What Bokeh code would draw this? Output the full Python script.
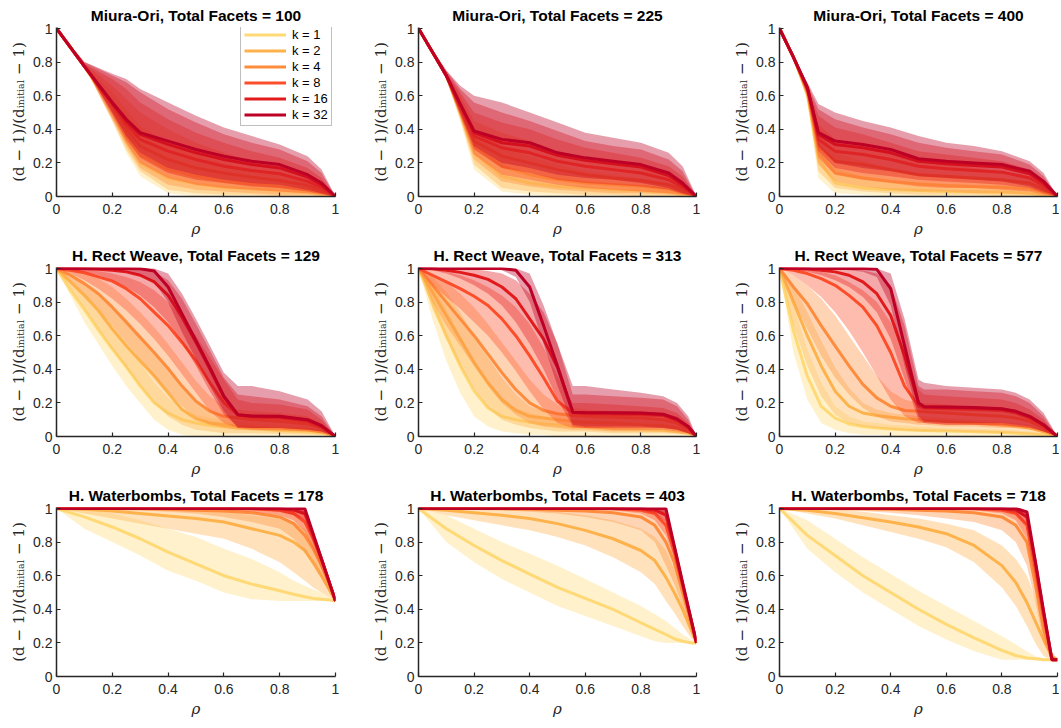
from bokeh.plotting import figure
from bokeh.layouts import gridplot
from bokeh.models import Range1d, FixedTicker, CustomJSTickFormatter, Legend, LegendItem
from bokeh.embed import file_html
from bokeh.resources import INLINE

K_VALUES = [1, 2, 4, 8, 16, 32]
K_COLORS = ["#FED976", "#FEB24C", "#FD8D3C", "#FC4E2A", "#E31A1C", "#BD0026"]
TICKS = [0, 0.2, 0.4, 0.6, 0.8, 1]
TITLES = ["Miura-Ori, Total Facets = 100", "Miura-Ori, Total Facets = 225", "Miura-Ori, Total Facets = 400",
          "H. Rect Weave, Total Facets = 129", "H. Rect Weave, Total Facets = 313", "H. Rect Weave, Total Facets = 577",
          "H. Waterbombs, Total Facets = 178", "H. Waterbombs, Total Facets = 403", "H. Waterbombs, Total Facets = 718"]

# ---------------- Miura-Ori, 100 ----------------
m100_x = [0, 0.1, 0.2, 0.25, 0.3, 0.4, 0.5, 0.6, 0.7, 0.8, 0.9, 0.95, 1]
m100_mean = {
    1: [1, 0.775, 0.52, 0.33, 0.2, 0.11, 0.075, 0.055, 0.045, 0.035, 0.025, 0.015, 0],
    2: [1, 0.775, 0.53, 0.37, 0.25, 0.16, 0.12, 0.09, 0.075, 0.06, 0.04, 0.025, 0],
    4: [1, 0.775, 0.54, 0.4, 0.3, 0.22, 0.17, 0.14, 0.115, 0.095, 0.065, 0.04, 0],
    8: [1, 0.775, 0.55, 0.43, 0.34, 0.27, 0.22, 0.18, 0.155, 0.135, 0.09, 0.055, 0],
    16: [1, 0.775, 0.555, 0.45, 0.37, 0.31, 0.26, 0.22, 0.19, 0.17, 0.115, 0.07, 0],
    32: [1, 0.775, 0.56, 0.46, 0.38, 0.33, 0.28, 0.24, 0.21, 0.19, 0.13, 0.08, 0]}
m100_lo = {
    1: [1, 0.775, 0.45, 0.26, 0.12, 0.02, 0, 0, 0, 0, 0, 0, 0],
    2: [1, 0.775, 0.45, 0.28, 0.15, 0.04, 0.02, 0.01, 0.01, 0, 0, 0, 0],
    4: [1, 0.775, 0.46, 0.3, 0.17, 0.07, 0.04, 0.03, 0.02, 0.01, 0.01, 0, 0],
    8: [1, 0.775, 0.47, 0.32, 0.2, 0.11, 0.07, 0.05, 0.04, 0.03, 0.02, 0.01, 0],
    16: [1, 0.775, 0.49, 0.34, 0.23, 0.14, 0.1, 0.08, 0.06, 0.05, 0.03, 0.015, 0],
    32: [1, 0.775, 0.5, 0.36, 0.26, 0.17, 0.13, 0.1, 0.08, 0.07, 0.04, 0.02, 0]}
m100_hi = {
    1: [1, 0.78, 0.58, 0.46, 0.35, 0.24, 0.18, 0.14, 0.11, 0.09, 0.06, 0.04, 0],
    2: [1, 0.785, 0.62, 0.52, 0.42, 0.32, 0.25, 0.2, 0.16, 0.13, 0.09, 0.06, 0],
    4: [1, 0.79, 0.66, 0.58, 0.5, 0.4, 0.32, 0.26, 0.21, 0.18, 0.13, 0.08, 0],
    8: [1, 0.79, 0.7, 0.64, 0.56, 0.46, 0.38, 0.32, 0.27, 0.23, 0.17, 0.11, 0],
    16: [1, 0.8, 0.72, 0.68, 0.62, 0.52, 0.44, 0.37, 0.32, 0.28, 0.21, 0.14, 0],
    32: [1, 0.8, 0.73, 0.7, 0.64, 0.56, 0.48, 0.41, 0.36, 0.31, 0.24, 0.16, 0]}

# ---------------- Miura-Ori, 225 ----------------
m225_x = [0, 0.1, 0.15, 0.2, 0.3, 0.4, 0.5, 0.6, 0.7, 0.8, 0.9, 0.95, 1]
m225_mean = {
    1: [1, 0.72, 0.5, 0.26, 0.12, 0.08, 0.06, 0.05, 0.04, 0.035, 0.025, 0.015, 0],
    2: [1, 0.72, 0.52, 0.3, 0.18, 0.13, 0.1, 0.08, 0.07, 0.06, 0.045, 0.025, 0],
    4: [1, 0.72, 0.53, 0.33, 0.24, 0.2, 0.16, 0.13, 0.11, 0.095, 0.07, 0.04, 0],
    8: [1, 0.72, 0.54, 0.36, 0.29, 0.26, 0.21, 0.18, 0.16, 0.14, 0.1, 0.055, 0],
    16: [1, 0.72, 0.55, 0.38, 0.32, 0.3, 0.245, 0.215, 0.195, 0.175, 0.125, 0.07, 0],
    32: [1, 0.72, 0.55, 0.39, 0.34, 0.32, 0.26, 0.23, 0.21, 0.19, 0.14, 0.08, 0]}
m225_lo = {
    1: [1, 0.7, 0.45, 0.16, 0.03, 0.01, 0, 0, 0, 0, 0, 0, 0],
    2: [1, 0.7, 0.46, 0.19, 0.05, 0.03, 0.02, 0.01, 0.01, 0, 0, 0, 0],
    4: [1, 0.7, 0.47, 0.22, 0.09, 0.06, 0.04, 0.03, 0.02, 0.02, 0.01, 0, 0],
    8: [1, 0.7, 0.48, 0.25, 0.13, 0.1, 0.07, 0.05, 0.04, 0.03, 0.02, 0.01, 0],
    16: [1, 0.7, 0.49, 0.28, 0.17, 0.14, 0.1, 0.08, 0.07, 0.06, 0.04, 0.015, 0],
    32: [1, 0.7, 0.5, 0.3, 0.2, 0.17, 0.13, 0.11, 0.1, 0.08, 0.05, 0.02, 0]}
m225_hi = {
    1: [1, 0.73, 0.56, 0.36, 0.23, 0.17, 0.13, 0.1, 0.08, 0.07, 0.05, 0.03, 0],
    2: [1, 0.74, 0.58, 0.4, 0.3, 0.24, 0.19, 0.15, 0.13, 0.11, 0.08, 0.05, 0],
    4: [1, 0.74, 0.6, 0.45, 0.38, 0.33, 0.27, 0.22, 0.19, 0.17, 0.13, 0.08, 0],
    8: [1, 0.74, 0.62, 0.5, 0.44, 0.4, 0.34, 0.29, 0.26, 0.23, 0.18, 0.12, 0],
    16: [1, 0.75, 0.64, 0.56, 0.5, 0.45, 0.39, 0.33, 0.3, 0.28, 0.22, 0.15, 0],
    32: [1, 0.75, 0.66, 0.6, 0.56, 0.5, 0.44, 0.38, 0.35, 0.32, 0.26, 0.18, 0]}

# ---------------- Miura-Ori, 400 ----------------
m400_x = [0, 0.05, 0.1, 0.14, 0.2, 0.3, 0.4, 0.5, 0.6, 0.7, 0.8, 0.9, 0.95, 1]
m400_mean = {
    1: [1, 0.83, 0.61, 0.22, 0.08, 0.05, 0.04, 0.035, 0.03, 0.028, 0.025, 0.02, 0.012, 0],
    2: [1, 0.83, 0.62, 0.26, 0.14, 0.11, 0.09, 0.075, 0.065, 0.06, 0.055, 0.045, 0.03, 0],
    4: [1, 0.83, 0.63, 0.3, 0.21, 0.19, 0.16, 0.13, 0.12, 0.11, 0.1, 0.08, 0.045, 0],
    8: [1, 0.83, 0.64, 0.34, 0.27, 0.25, 0.22, 0.18, 0.165, 0.155, 0.145, 0.11, 0.065, 0],
    16: [1, 0.83, 0.65, 0.37, 0.31, 0.29, 0.26, 0.21, 0.195, 0.185, 0.175, 0.135, 0.08, 0],
    32: [1, 0.83, 0.65, 0.38, 0.33, 0.31, 0.28, 0.225, 0.21, 0.2, 0.19, 0.15, 0.09, 0]}
m400_lo = {
    1: [1, 0.82, 0.57, 0.11, 0.02, 0.01, 0, 0, 0, 0, 0, 0, 0, 0],
    2: [1, 0.82, 0.58, 0.15, 0.05, 0.03, 0.02, 0.01, 0.01, 0.01, 0, 0, 0, 0],
    4: [1, 0.82, 0.59, 0.19, 0.09, 0.06, 0.04, 0.03, 0.03, 0.02, 0.02, 0.01, 0, 0],
    8: [1, 0.82, 0.6, 0.23, 0.13, 0.1, 0.08, 0.06, 0.05, 0.05, 0.04, 0.03, 0.01, 0],
    16: [1, 0.82, 0.61, 0.27, 0.17, 0.14, 0.12, 0.1, 0.09, 0.08, 0.07, 0.05, 0.02, 0],
    32: [1, 0.82, 0.62, 0.3, 0.2, 0.17, 0.15, 0.12, 0.11, 0.1, 0.09, 0.06, 0.03, 0]}
m400_hi = {
    1: [1, 0.84, 0.63, 0.33, 0.17, 0.12, 0.1, 0.08, 0.07, 0.06, 0.05, 0.04, 0.03, 0],
    2: [1, 0.84, 0.64, 0.38, 0.26, 0.21, 0.17, 0.14, 0.12, 0.11, 0.1, 0.08, 0.05, 0],
    4: [1, 0.84, 0.65, 0.43, 0.34, 0.3, 0.26, 0.21, 0.19, 0.17, 0.15, 0.12, 0.07, 0],
    8: [1, 0.84, 0.66, 0.48, 0.41, 0.37, 0.32, 0.27, 0.25, 0.23, 0.21, 0.16, 0.1, 0],
    16: [1, 0.84, 0.67, 0.52, 0.46, 0.41, 0.37, 0.32, 0.29, 0.27, 0.25, 0.19, 0.12, 0],
    32: [1, 0.84, 0.68, 0.55, 0.5, 0.45, 0.41, 0.36, 0.32, 0.3, 0.27, 0.21, 0.14, 0]}

# ---------------- H. Rect Weave, 129 ----------------
r129_x = [0, 0.05, 0.1, 0.15, 0.2, 0.25, 0.3, 0.35, 0.4, 0.45, 0.5, 0.55, 0.6, 0.65, 0.7, 0.8, 0.9, 0.95, 1]
r129_mean = {
    1: [1, 0.87, 0.755, 0.635, 0.52, 0.415, 0.3, 0.2, 0.14, 0.1, 0.08, 0.065, 0.058, 0.05, 0.045, 0.035, 0.028, 0.02, 0],
    2: [1, 0.92, 0.84, 0.75, 0.64, 0.54, 0.45, 0.36, 0.26, 0.16, 0.105, 0.08, 0.07, 0.06, 0.055, 0.045, 0.04, 0.03, 0],
    4: [1, 0.96, 0.91, 0.85, 0.77, 0.68, 0.59, 0.5, 0.405, 0.3, 0.21, 0.15, 0.12, 0.11, 0.1, 0.09, 0.075, 0.05, 0],
    8: [1, 0.99, 0.975, 0.95, 0.925, 0.88, 0.82, 0.74, 0.66, 0.56, 0.45, 0.32, 0.2, 0.13, 0.115, 0.11, 0.09, 0.055, 0],
    16: [1, 1, 0.998, 0.995, 0.99, 0.98, 0.96, 0.92, 0.84, 0.71, 0.56, 0.4, 0.235, 0.128, 0.12, 0.117, 0.098, 0.062, 0],
    32: [1, 1, 1, 1, 1, 1, 0.998, 0.985, 0.89, 0.73, 0.57, 0.41, 0.24, 0.13, 0.122, 0.12, 0.1, 0.065, 0]}
r129_lo = {
    1: [1, 0.84, 0.68, 0.55, 0.42, 0.3, 0.2, 0.1, 0.04, 0.01, 0, 0, 0, 0, 0, 0, 0, 0, 0],
    2: [1, 0.88, 0.76, 0.64, 0.52, 0.41, 0.3, 0.2, 0.12, 0.07, 0.04, 0.03, 0.02, 0.02, 0.02, 0.015, 0.01, 0.01, 0],
    4: [1, 0.93, 0.85, 0.76, 0.66, 0.56, 0.46, 0.36, 0.27, 0.18, 0.11, 0.07, 0.05, 0.04, 0.04, 0.03, 0.03, 0.02, 0],
    8: [1, 0.97, 0.93, 0.88, 0.82, 0.75, 0.67, 0.58, 0.48, 0.37, 0.26, 0.15, 0.08, 0.05, 0.04, 0.04, 0.03, 0.02, 0],
    16: [1, 0.99, 0.98, 0.96, 0.93, 0.89, 0.84, 0.77, 0.68, 0.56, 0.42, 0.27, 0.13, 0.06, 0.05, 0.05, 0.04, 0.03, 0],
    32: [1, 1, 1, 0.995, 0.99, 0.98, 0.96, 0.92, 0.8, 0.62, 0.46, 0.3, 0.15, 0.05, 0.05, 0.05, 0.04, 0.03, 0]}
r129_hi = {
    1: [1, 0.93, 0.85, 0.76, 0.66, 0.56, 0.44, 0.32, 0.23, 0.17, 0.13, 0.11, 0.1, 0.09, 0.08, 0.07, 0.06, 0.04, 0],
    2: [1, 0.97, 0.92, 0.86, 0.78, 0.7, 0.6, 0.5, 0.4, 0.3, 0.2, 0.14, 0.12, 0.1, 0.09, 0.08, 0.07, 0.05, 0],
    4: [1, 0.99, 0.97, 0.94, 0.89, 0.82, 0.74, 0.65, 0.55, 0.44, 0.33, 0.24, 0.18, 0.16, 0.15, 0.14, 0.12, 0.08, 0],
    8: [1, 1, 0.995, 0.985, 0.97, 0.95, 0.92, 0.87, 0.8, 0.71, 0.6, 0.47, 0.34, 0.22, 0.2, 0.19, 0.16, 0.1, 0],
    16: [1, 1, 1, 1, 1, 1, 0.995, 0.98, 0.93, 0.82, 0.67, 0.51, 0.35, 0.25, 0.24, 0.22, 0.18, 0.12, 0],
    32: [1, 1, 1, 1, 1, 1, 1, 1, 0.97, 0.85, 0.7, 0.54, 0.38, 0.3, 0.3, 0.27, 0.22, 0.15, 0]}

# ---------------- H. Rect Weave, 313 ----------------
r313_x = [0, 0.05, 0.1, 0.15, 0.2, 0.25, 0.3, 0.35, 0.4, 0.45, 0.5, 0.555, 0.6, 0.7, 0.8, 0.88, 0.93, 0.97, 1]
r313_mean = {
    1: [1, 0.8, 0.6, 0.42, 0.27, 0.17, 0.12, 0.1, 0.085, 0.075, 0.068, 0.06, 0.055, 0.045, 0.04, 0.035, 0.03, 0.02, 0],
    2: [1, 0.86, 0.72, 0.58, 0.44, 0.32, 0.22, 0.155, 0.12, 0.11, 0.1, 0.09, 0.085, 0.08, 0.07, 0.065, 0.05, 0.03, 0],
    4: [1, 0.9, 0.8, 0.7, 0.6, 0.49, 0.38, 0.28, 0.2, 0.155, 0.135, 0.125, 0.12, 0.115, 0.11, 0.1, 0.08, 0.045, 0],
    8: [1, 0.96, 0.92, 0.88, 0.835, 0.78, 0.7, 0.6, 0.48, 0.35, 0.21, 0.14, 0.135, 0.133, 0.13, 0.125, 0.095, 0.055, 0],
    16: [1, 0.998, 0.99, 0.977, 0.96, 0.935, 0.89, 0.82, 0.7, 0.58, 0.41, 0.145, 0.14, 0.14, 0.137, 0.13, 0.1, 0.058, 0],
    32: [1, 1, 1, 1, 1, 1, 1, 0.99, 0.89, 0.66, 0.42, 0.145, 0.143, 0.142, 0.14, 0.133, 0.104, 0.06, 0]}
r313_lo = {
    1: [1, 0.7, 0.45, 0.26, 0.12, 0.06, 0.03, 0.02, 0.01, 0.01, 0, 0, 0, 0, 0, 0, 0, 0, 0],
    2: [1, 0.76, 0.58, 0.42, 0.28, 0.17, 0.1, 0.07, 0.05, 0.04, 0.03, 0.03, 0.03, 0.02, 0.02, 0.02, 0.015, 0.01, 0],
    4: [1, 0.8, 0.66, 0.54, 0.42, 0.3, 0.2, 0.13, 0.08, 0.06, 0.05, 0.04, 0.04, 0.03, 0.03, 0.03, 0.02, 0.01, 0],
    8: [1, 0.9, 0.83, 0.76, 0.68, 0.6, 0.5, 0.39, 0.27, 0.16, 0.08, 0.05, 0.05, 0.04, 0.04, 0.04, 0.03, 0.02, 0],
    16: [1, 0.99, 0.97, 0.94, 0.9, 0.85, 0.78, 0.68, 0.55, 0.4, 0.22, 0.06, 0.05, 0.05, 0.05, 0.05, 0.04, 0.02, 0],
    32: [1, 1, 1, 1, 1, 0.995, 0.99, 0.95, 0.8, 0.55, 0.3, 0.07, 0.06, 0.06, 0.06, 0.05, 0.04, 0.02, 0]}
r313_hi = {
    1: [1, 0.9, 0.76, 0.6, 0.45, 0.32, 0.22, 0.17, 0.14, 0.12, 0.11, 0.1, 0.09, 0.08, 0.07, 0.06, 0.05, 0.03, 0],
    2: [1, 0.95, 0.86, 0.74, 0.6, 0.47, 0.35, 0.25, 0.18, 0.15, 0.14, 0.13, 0.12, 0.11, 0.1, 0.09, 0.08, 0.05, 0],
    4: [1, 0.97, 0.92, 0.85, 0.77, 0.67, 0.56, 0.45, 0.34, 0.25, 0.19, 0.17, 0.16, 0.15, 0.15, 0.14, 0.12, 0.07, 0],
    8: [1, 0.995, 0.98, 0.96, 0.93, 0.89, 0.84, 0.77, 0.67, 0.53, 0.36, 0.2, 0.2, 0.19, 0.18, 0.17, 0.14, 0.08, 0],
    16: [1, 1, 1, 1, 0.995, 0.985, 0.97, 0.93, 0.85, 0.74, 0.55, 0.25, 0.25, 0.24, 0.23, 0.22, 0.18, 0.1, 0],
    32: [1, 1, 1, 1, 1, 1, 1, 1, 0.97, 0.78, 0.55, 0.3, 0.3, 0.28, 0.26, 0.24, 0.2, 0.12, 0]}

# ---------------- H. Rect Weave, 577 ----------------
r577_x = [0, 0.05, 0.1, 0.15, 0.2, 0.25, 0.3, 0.35, 0.4, 0.45, 0.5, 0.52, 0.6, 0.7, 0.8, 0.85, 0.9, 0.95, 1]
r577_mean = {
    1: [1, 0.63, 0.36, 0.18, 0.11, 0.075, 0.06, 0.05, 0.045, 0.04, 0.037, 0.036, 0.032, 0.028, 0.024, 0.02, 0.015, 0.01, 0],
    2: [1, 0.8, 0.6, 0.42, 0.27, 0.18, 0.14, 0.125, 0.115, 0.105, 0.1, 0.097, 0.09, 0.08, 0.07, 0.06, 0.05, 0.03, 0],
    4: [1, 0.89, 0.79, 0.66, 0.54, 0.42, 0.31, 0.23, 0.18, 0.155, 0.15, 0.148, 0.14, 0.13, 0.12, 0.11, 0.09, 0.05, 0],
    8: [1, 0.99, 0.97, 0.94, 0.9, 0.84, 0.77, 0.66, 0.5, 0.3, 0.18, 0.17, 0.165, 0.16, 0.155, 0.14, 0.11, 0.065, 0],
    16: [1, 1, 0.997, 0.99, 0.98, 0.96, 0.92, 0.85, 0.72, 0.48, 0.2, 0.177, 0.174, 0.17, 0.162, 0.147, 0.117, 0.068, 0],
    32: [1, 1, 1, 1, 1, 1, 1, 0.995, 0.88, 0.54, 0.2, 0.177, 0.175, 0.172, 0.165, 0.15, 0.12, 0.07, 0]}
r577_lo = {
    1: [1, 0.5, 0.22, 0.08, 0.04, 0.02, 0.01, 0.01, 0, 0, 0, 0, 0, 0, 0, 0, 0, 0, 0],
    2: [1, 0.66, 0.42, 0.24, 0.13, 0.08, 0.06, 0.05, 0.04, 0.035, 0.03, 0.03, 0.03, 0.025, 0.02, 0.02, 0.015, 0.01, 0],
    4: [1, 0.8, 0.64, 0.48, 0.35, 0.25, 0.17, 0.12, 0.09, 0.08, 0.07, 0.07, 0.06, 0.06, 0.05, 0.05, 0.04, 0.02, 0],
    8: [1, 0.96, 0.9, 0.83, 0.74, 0.63, 0.5, 0.36, 0.22, 0.12, 0.08, 0.08, 0.07, 0.07, 0.06, 0.06, 0.05, 0.03, 0],
    16: [1, 0.995, 0.98, 0.96, 0.93, 0.89, 0.83, 0.74, 0.58, 0.34, 0.1, 0.08, 0.07, 0.07, 0.07, 0.06, 0.05, 0.03, 0],
    32: [1, 1, 1, 1, 0.995, 0.99, 0.98, 0.95, 0.78, 0.42, 0.12, 0.09, 0.08, 0.08, 0.08, 0.07, 0.06, 0.03, 0]}
r577_hi = {
    1: [1, 0.78, 0.52, 0.32, 0.18, 0.12, 0.09, 0.08, 0.07, 0.065, 0.06, 0.06, 0.05, 0.045, 0.04, 0.035, 0.03, 0.02, 0],
    2: [1, 0.9, 0.74, 0.57, 0.41, 0.29, 0.2, 0.16, 0.14, 0.13, 0.12, 0.12, 0.11, 0.1, 0.09, 0.08, 0.07, 0.04, 0],
    4: [1, 0.96, 0.9, 0.82, 0.72, 0.6, 0.48, 0.36, 0.27, 0.22, 0.2, 0.2, 0.19, 0.18, 0.17, 0.15, 0.12, 0.07, 0],
    8: [1, 1, 0.99, 0.98, 0.96, 0.92, 0.87, 0.8, 0.68, 0.5, 0.28, 0.25, 0.24, 0.23, 0.22, 0.2, 0.16, 0.1, 0],
    16: [1, 1, 1, 1, 1, 0.995, 0.99, 0.97, 0.9, 0.66, 0.3, 0.28, 0.28, 0.27, 0.26, 0.24, 0.2, 0.12, 0],
    32: [1, 1, 1, 1, 1, 1, 1, 1, 0.97, 0.7, 0.34, 0.32, 0.3, 0.29, 0.28, 0.26, 0.22, 0.14, 0]}

# ---------------- H. Waterbombs, 178 ----------------
w178_x = [0, 0.1, 0.2, 0.3, 0.4, 0.5, 0.6, 0.7, 0.8, 0.85, 0.89, 0.92, 0.95, 0.98, 1]
w178_mean = {
    1: [1, 0.95, 0.89, 0.82, 0.74, 0.67, 0.6, 0.55, 0.51, 0.49, 0.475, 0.465, 0.46, 0.455, 0.45],
    2: [1, 0.995, 0.985, 0.97, 0.955, 0.94, 0.92, 0.88, 0.84, 0.8, 0.75, 0.68, 0.6, 0.51, 0.45],
    4: [1, 1, 1, 0.998, 0.995, 0.99, 0.985, 0.975, 0.95, 0.91, 0.84, 0.76, 0.66, 0.54, 0.45],
    8: [1, 1, 1, 1, 1, 1, 1, 0.998, 0.99, 0.97, 0.92, 0.82, 0.69, 0.55, 0.45],
    16: [1, 1, 1, 1, 1, 1, 1, 1, 0.998, 0.99, 0.97, 0.84, 0.7, 0.55, 0.45],
    32: [1, 1, 1, 1, 1, 1, 1, 1, 1, 1, 1, 0.85, 0.7, 0.55, 0.45]}
w178_lo = {
    1: [1, 0.88, 0.8, 0.72, 0.63, 0.57, 0.5, 0.46, 0.45, 0.45, 0.45, 0.45, 0.45, 0.45, 0.45],
    2: [1, 0.97, 0.94, 0.91, 0.88, 0.85, 0.82, 0.76, 0.68, 0.62, 0.57, 0.53, 0.5, 0.47, 0.45],
    4: [1, 1, 1, 0.99, 0.98, 0.97, 0.95, 0.92, 0.88, 0.82, 0.74, 0.66, 0.58, 0.5, 0.45],
    8: [1, 1, 1, 1, 1, 1, 0.99, 0.98, 0.96, 0.93, 0.86, 0.76, 0.64, 0.52, 0.45],
    16: [1, 1, 1, 1, 1, 1, 1, 0.995, 0.98, 0.96, 0.93, 0.8, 0.67, 0.54, 0.45],
    32: [1, 1, 1, 1, 1, 1, 1, 1, 0.995, 0.985, 0.96, 0.83, 0.69, 0.55, 0.45]}
w178_hi = {
    1: [1, 1, 0.97, 0.93, 0.88, 0.83, 0.76, 0.7, 0.62, 0.57, 0.54, 0.52, 0.5, 0.47, 0.45],
    2: [1, 1, 1, 1, 0.995, 0.99, 0.98, 0.96, 0.94, 0.92, 0.88, 0.8, 0.69, 0.55, 0.45],
    4: [1, 1, 1, 1, 1, 1, 1, 1, 1, 0.99, 0.97, 0.85, 0.7, 0.55, 0.45],
    8: [1, 1, 1, 1, 1, 1, 1, 1, 1, 1, 1, 0.85, 0.7, 0.55, 0.45],
    16: [1, 1, 1, 1, 1, 1, 1, 1, 1, 1, 1, 0.85, 0.7, 0.55, 0.45],
    32: [1, 1, 1, 1, 1, 1, 1, 1, 1, 1, 1, 0.85, 0.7, 0.55, 0.45]}

# ---------------- H. Waterbombs, 403 ----------------
w403_x = [0, 0.1, 0.2, 0.3, 0.4, 0.5, 0.6, 0.7, 0.8, 0.85, 0.89, 0.92, 0.95, 0.98, 1]
w403_mean = {
    1: [1, 0.88, 0.78, 0.69, 0.61, 0.53, 0.465, 0.4, 0.32, 0.28, 0.25, 0.225, 0.21, 0.2, 0.2],
    2: [1, 0.99, 0.975, 0.96, 0.94, 0.91, 0.87, 0.82, 0.75, 0.69, 0.59, 0.5, 0.4, 0.28, 0.2],
    4: [1, 1, 1, 0.998, 0.995, 0.99, 0.985, 0.975, 0.95, 0.9, 0.8, 0.68, 0.5, 0.32, 0.2],
    8: [1, 1, 1, 1, 1, 1, 1, 0.998, 0.99, 0.97, 0.9, 0.74, 0.54, 0.34, 0.2],
    16: [1, 1, 1, 1, 1, 1, 1, 1, 0.998, 0.99, 0.96, 0.77, 0.55, 0.34, 0.2],
    32: [1, 1, 1, 1, 1, 1, 1, 1, 1, 1, 1, 0.78, 0.56, 0.345, 0.2]}
w403_lo = {
    1: [1, 0.8, 0.68, 0.58, 0.5, 0.42, 0.36, 0.3, 0.24, 0.21, 0.2, 0.2, 0.2, 0.2, 0.2],
    2: [1, 0.96, 0.93, 0.9, 0.87, 0.83, 0.78, 0.71, 0.62, 0.55, 0.45, 0.38, 0.3, 0.23, 0.2],
    4: [1, 1, 0.995, 0.99, 0.98, 0.97, 0.95, 0.92, 0.87, 0.8, 0.66, 0.55, 0.42, 0.28, 0.2],
    8: [1, 1, 1, 1, 1, 1, 0.995, 0.99, 0.97, 0.93, 0.84, 0.7, 0.52, 0.33, 0.2],
    16: [1, 1, 1, 1, 1, 1, 1, 1, 0.99, 0.97, 0.92, 0.75, 0.55, 0.34, 0.2],
    32: [1, 1, 1, 1, 1, 1, 1, 1, 0.997, 0.99, 0.97, 0.77, 0.555, 0.343, 0.2]}
w403_hi = {
    1: [1, 0.96, 0.88, 0.8, 0.73, 0.66, 0.58, 0.5, 0.42, 0.37, 0.33, 0.29, 0.25, 0.22, 0.2],
    2: [1, 1, 1, 0.995, 0.99, 0.98, 0.96, 0.93, 0.88, 0.83, 0.75, 0.64, 0.5, 0.33, 0.2],
    4: [1, 1, 1, 1, 1, 1, 1, 1, 0.995, 0.98, 0.93, 0.77, 0.55, 0.345, 0.2],
    8: [1, 1, 1, 1, 1, 1, 1, 1, 1, 1, 0.99, 0.78, 0.56, 0.345, 0.2],
    16: [1, 1, 1, 1, 1, 1, 1, 1, 1, 1, 1, 0.78, 0.56, 0.345, 0.2],
    32: [1, 1, 1, 1, 1, 1, 1, 1, 1, 1, 1, 0.78, 0.56, 0.345, 0.2]}

# ---------------- H. Waterbombs, 718 ----------------
w718_x = [0, 0.1, 0.2, 0.3, 0.4, 0.5, 0.6, 0.7, 0.8, 0.85, 0.89, 0.92, 0.95, 0.98, 1]
w718_mean = {
    1: [1, 0.84, 0.72, 0.6, 0.5, 0.4, 0.31, 0.23, 0.155, 0.125, 0.11, 0.105, 0.1, 0.1, 0.1],
    2: [1, 0.99, 0.97, 0.945, 0.92, 0.89, 0.85, 0.78, 0.66, 0.56, 0.44, 0.33, 0.22, 0.12, 0.1],
    4: [1, 1, 1, 0.998, 0.995, 0.99, 0.985, 0.975, 0.95, 0.9, 0.8, 0.55, 0.28, 0.1, 0.1],
    8: [1, 1, 1, 1, 1, 1, 1, 0.998, 0.99, 0.97, 0.9, 0.64, 0.36, 0.1, 0.1],
    16: [1, 1, 1, 1, 1, 1, 1, 1, 0.998, 0.99, 0.95, 0.68, 0.38, 0.1, 0.1],
    32: [1, 1, 1, 1, 1, 1, 1, 1, 1, 1, 0.98, 0.69, 0.39, 0.1, 0.1]}
w718_lo = {
    1: [1, 0.76, 0.62, 0.5, 0.4, 0.3, 0.22, 0.15, 0.1, 0.1, 0.1, 0.1, 0.1, 0.1, 0.1],
    2: [1, 0.97, 0.94, 0.9, 0.86, 0.82, 0.77, 0.68, 0.53, 0.42, 0.3, 0.2, 0.12, 0.1, 0.1],
    4: [1, 1, 0.99, 0.985, 0.975, 0.96, 0.94, 0.92, 0.87, 0.8, 0.66, 0.45, 0.2, 0.1, 0.1],
    8: [1, 1, 1, 1, 1, 1, 0.995, 0.99, 0.97, 0.93, 0.82, 0.56, 0.3, 0.1, 0.1],
    16: [1, 1, 1, 1, 1, 1, 1, 1, 0.99, 0.97, 0.9, 0.64, 0.35, 0.1, 0.1],
    32: [1, 1, 1, 1, 1, 1, 1, 1, 0.995, 0.985, 0.94, 0.66, 0.37, 0.1, 0.1]}
w718_hi = {
    1: [1, 0.93, 0.82, 0.71, 0.61, 0.51, 0.42, 0.33, 0.24, 0.19, 0.15, 0.12, 0.11, 0.1, 0.1],
    2: [1, 1, 0.995, 0.98, 0.96, 0.94, 0.91, 0.87, 0.78, 0.7, 0.6, 0.47, 0.32, 0.15, 0.1],
    4: [1, 1, 1, 1, 1, 1, 1, 1, 0.995, 0.98, 0.92, 0.67, 0.38, 0.1, 0.1],
    8: [1, 1, 1, 1, 1, 1, 1, 1, 1, 1, 0.98, 0.69, 0.39, 0.12, 0.1],
    16: [1, 1, 1, 1, 1, 1, 1, 1, 1, 1, 0.98, 0.69, 0.39, 0.12, 0.1],
    32: [1, 1, 1, 1, 1, 1, 1, 1, 1, 1, 0.98, 0.69, 0.39, 0.12, 0.1]}

PANELS = [
    (m100_x, m100_mean, m100_lo, m100_hi), (m225_x, m225_mean, m225_lo, m225_hi), (m400_x, m400_mean, m400_lo, m400_hi),
    (r129_x, r129_mean, r129_lo, r129_hi), (r313_x, r313_mean, r313_lo, r313_hi), (r577_x, r577_mean, r577_lo, r577_hi),
    (w178_x, w178_mean, w178_lo, w178_hi), (w403_x, w403_mean, w403_lo, w403_hi), (w718_x, w718_mean, w718_lo, w718_hi),
]

AXIS_COLOR = "#262626"
TICK_FONT = "Liberation Sans"
YLABEL = "(d \u2212 1)/(d\u1d62\u2099\u1d62\u209c\u1d62\u2090\u2097 \u2212 1)"

FRAME_W = 279
FRAME_H = 170
LEFTS = [56, 48, 48]
RIGHTS = [34, 34, 2]
TOPS = [26, 26, 26]
BOTTOMS = [44, 44, 44]


def make_panel(i):
    xs, means, los, his = PANELS[i]
    row, col = divmod(i, 3)
    left, right = LEFTS[col], RIGHTS[col]
    top, bottom = TOPS[row], BOTTOMS[row]
    p = figure(width=left + FRAME_W + right, height=top + FRAME_H + bottom,
               x_range=Range1d(0, 1), y_range=Range1d(0, 1.006),
               output_backend="svg", toolbar_location=None, title=TITLES[i],
               min_border_left=left, min_border_right=right, min_border_top=top, min_border_bottom=bottom)
    p.outline_line_color = None
    p.xgrid.visible = False
    p.ygrid.visible = False
    p.title.text_font = "Liberation Sans"
    p.title.text_font_style = "bold"
    p.title.text_font_size = "15.5px"
    p.title.text_color = "#000000"
    p.title.align = "center"
    p.title.standoff = 8

    fmt = CustomJSTickFormatter(code="return (Math.round(tick*10)/10).toString();")
    for ax in (p.xaxis[0], p.yaxis[0]):
        ax.ticker = FixedTicker(ticks=TICKS)
        ax.formatter = fmt
        ax.axis_line_color = AXIS_COLOR
        ax.axis_line_width = 1.5
        ax.major_tick_line_color = AXIS_COLOR
        ax.major_tick_line_width = 1.2
        ax.major_tick_in = 4
        ax.major_tick_out = 0
        ax.minor_tick_line_color = None
        ax.major_label_text_font = TICK_FONT
        ax.major_label_text_font_size = "14px"
        ax.major_label_text_color = AXIS_COLOR
    p.xaxis.major_label_standoff = 7
    p.yaxis.major_label_standoff = 4
    p.xaxis.axis_label = "\u03c1"
    p.xaxis.axis_label_text_font = "DejaVu Serif"
    p.xaxis.axis_label_text_font_style = "italic"
    p.xaxis.axis_label_text_font_size = "15px"
    p.xaxis.axis_label_text_color = AXIS_COLOR
    p.xaxis.axis_label_standoff = 3
    p.yaxis.axis_label = YLABEL
    p.yaxis.axis_label_text_font = "DejaVu Serif"
    p.yaxis.axis_label_text_font_style = "normal"
    p.yaxis.axis_label_text_font_size = "15px"
    p.yaxis.axis_label_text_color = AXIS_COLOR
    p.yaxis.axis_label_standoff = 2

    items = []
    for k, c in zip(K_VALUES, K_COLORS):
        p.varea(x=xs, y1=los[k], y2=his[k], fill_color=c, fill_alpha=0.38)
        r = p.line(xs, means[k], line_color=c, line_width=3)
        items.append(LegendItem(label="k = %d" % k, renderers=[r]))

    if i == 0:
        legend = Legend(items=items, location=(184, 70))
        legend.label_text_font = "Liberation Sans"
        legend.label_text_font_size = "13px"
        legend.label_text_color = "#000000"
        legend.glyph_width = 42
        legend.glyph_height = 13
        legend.label_height = 13
        legend.spacing = 1
        legend.padding = 3
        legend.margin = 0
        legend.label_standoff = 6
        legend.border_line_color = "#7f7f7f"
        legend.border_line_width = 1
        legend.background_fill_alpha = 1.0
        p.add_layout(legend)
    return p


figs = [make_panel(i) for i in range(9)]
grid = gridplot([figs[0:3], figs[3:6], figs[6:9]], toolbar_location=None)

open("out.html", "w").write(file_html(grid, INLINE))
